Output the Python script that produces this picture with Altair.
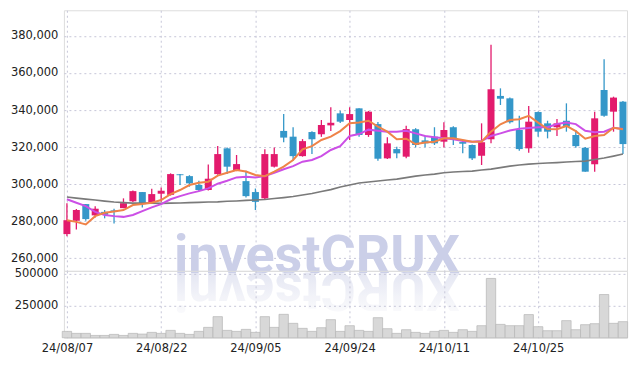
import altair as alt
import pandas as pd

dates = ["24/08/07", "24/08/08", "24/08/09", "24/08/12", "24/08/13", "24/08/14", "24/08/16",
         "24/08/19", "24/08/20", "24/08/21", "24/08/22", "24/08/23", "24/08/26", "24/08/27",
         "24/08/28", "24/08/29", "24/08/30", "24/09/02", "24/09/03", "24/09/04", "24/09/05",
         "24/09/06", "24/09/09", "24/09/10", "24/09/11", "24/09/12", "24/09/13", "24/09/19",
         "24/09/20", "24/09/23", "24/09/24", "24/09/25", "24/09/26", "24/09/27", "24/09/30",
         "24/10/02", "24/10/04", "24/10/07", "24/10/08", "24/10/10", "24/10/11", "24/10/14",
         "24/10/15", "24/10/16", "24/10/17", "24/10/18", "24/10/21", "24/10/22", "24/10/23",
         "24/10/24", "24/10/25", "24/10/28", "24/10/29", "24/10/30", "24/10/31", "24/11/01",
         "24/11/04", "24/11/05", "24/11/06", "24/11/07"]

opens = [273000, 280200, 289200, 283100, 285000, 285800, 287000, 290700, 295700, 289900,
         294800, 294200, 305300, 304300, 299500, 296800, 305400, 319300, 307600, 301600,
         295700, 292300, 309400, 328700, 325600, 315100, 328100, 326900, 331700, 338200,
         334600, 340900, 326500, 332400, 313900, 318900, 314800, 329600, 323600, 325600,
         322900, 330700, 322700, 321100, 315300, 324200, 347600, 346300, 329200, 319300,
         338900, 332800, 330700, 334200, 326500, 319600, 310700, 350800, 339100, 344500]
highs = [289700, 286500, 289200, 288000, 286000, 286700, 292300, 296600, 295700, 297500,
         298200, 305800, 305400, 304800, 301800, 310600, 320500, 319800, 315700, 307200,
         297600, 318800, 319800, 337800, 330700, 324300, 328500, 334600, 341500, 339600,
         341500, 341000, 339500, 333500, 325300, 320200, 331500, 330200, 326300, 330700,
         333400, 331200, 323000, 321400, 332800, 375300, 351700, 346700, 336900, 342200,
         339200, 334200, 335100, 343600, 329200, 320000, 339100, 367400, 347200, 344800]
lows = [271900, 275500, 280200, 282000, 281500, 278700, 287000, 290300, 287400, 289500,
        290500, 293800, 299500, 298600, 296300, 296500, 305000, 305400, 307000, 292800,
        286000, 292000, 309000, 322600, 312600, 314800, 316200, 325500, 328600, 333000,
        323800, 325600, 325500, 312600, 313500, 313900, 314000, 319800, 319900, 321100,
        319800, 321100, 316600, 313000, 310300, 322000, 342700, 332700, 318000, 316900,
        325600, 324700, 326000, 328300, 319600, 306700, 306700, 336400, 328300, 316200]
closes = [280500, 286000, 281100, 286700, 283400, 285000, 289700, 296200, 289200, 294600,
          296400, 305400, 304800, 300400, 296800, 302900, 316200, 309400, 310800, 293500,
          290400, 316200, 316200, 325100, 315100, 323200, 324200, 331900, 333100, 333700,
          337800, 326500, 339100, 313700, 322000, 316600, 329700, 321100, 322000, 322000,
          329200, 324700, 321800, 313900, 322600, 351200, 346100, 333400, 318900, 333700,
          328300, 328300, 332800, 331000, 320500, 306700, 335500, 336900, 346700, 321600]

ma5 = [280500, 279600, 278200, 282700, 284500, 285200, 286000, 288700, 289200, 289900,
       291400, 294600, 296800, 299500, 300700, 301300, 304600, 306100, 307600, 306800,
       304900, 304300, 306700, 309400, 313000, 318800, 320500, 323800, 325600, 328600,
       332800, 333200, 334200, 331000, 328300, 324200, 324500, 321600, 322500, 322900,
       324700, 324700, 323800, 322900, 322900, 328300, 332300, 334600, 335000, 336900,
       333200, 329700, 329600, 331400, 328600, 324500, 326000, 326500, 330400, 329600]
ma20 = [291800, 289900, 288100, 285000, 283300, 282700, 282300, 283300, 285400, 287400,
        289200, 291800, 293500, 295000, 296200, 297700, 300200, 301800, 303600, 304000,
        303600, 304300, 306100, 308000, 309700, 312100, 313000, 315100, 318400, 320500,
        326000, 327000, 329400, 328800, 328300, 328300, 328800, 327400, 326000, 325300,
        324700, 324200, 323300, 322900, 323300, 326000, 327400, 328900, 329900, 330300,
        330700, 330700, 332400, 333200, 332400, 328800, 328000, 328300, 330400, 329700]
ma60 = [293000, 292400, 291900, 291400, 290800, 290300, 290000, 289700, 289700, 289700,
        289600, 289700, 289800, 290000, 290100, 290300, 290400, 290700, 290900, 291200,
        291400, 291700, 292200, 292700, 293300, 294100, 294900, 296000, 297000, 298400,
        299500, 300600, 301100, 301700, 302200, 302700, 303500, 304300, 304900, 305400,
        306100, 306500, 306800, 307000, 307600, 308100, 308900, 309700, 310300, 310800,
        311100, 311400, 311600, 311900, 312200, 312400, 313300, 314100, 315100, 316200]

volumes = [49500, 34000, 34000, 18000, 18000, 26000, 18000, 34000, 28600, 41700,
           34000, 57300, 34000, 26000, 49500, 80700, 164000, 57300, 49500, 65000,
           41700, 164000, 80700, 182000, 112000, 73000, 49500, 78000, 140600, 49500,
           93700, 57300, 49500, 156000, 70300, 34000, 62500, 41700, 34000, 49500,
           57300, 41700, 62500, 49500, 93700, 461000, 104000, 93700, 93700, 180000,
           86000, 54700, 54700, 133000, 62500, 101600, 109400, 336000, 112000, 125000]

price_ticks = [260000, 280000, 300000, 320000, 340000, 360000, 380000]
volume_ticks = [250000, 500000]
date_tick_idx = [0, 10, 20, 30, 40, 50]
watermark = "investCRUX"

df = pd.DataFrame({
    "i": list(range(len(dates))), "date": dates,
    "open": opens, "high": highs, "low": lows, "close": closes,
    "ma5": ma5, "ma20": ma20, "ma60": ma60, "volume": volumes,
})

RED = "#e31b6d"
BLUE = "#3497c9"
GRID = "#c6c6d8"
DASH = [2, 3]
FONT = "DejaVu Sans"
W = 564

label_expr = "[" + ",".join("'%s'" % d for d in dates) + "][datum.value]"
xscale = alt.Scale(domain=[-0.32, 59.43], nice=False, zero=False, padding=0)

def x_top():
    return alt.X("i:Q", scale=xscale, title=None,
                 axis=alt.Axis(values=date_tick_idx, labels=False, ticks=False, domain=False,
                               grid=True, gridColor=GRID, gridDash=DASH, minExtent=0,
                               maxExtent=0, labelPadding=0))

x_bottom = alt.X("i:Q", scale=xscale, title=None,
                 axis=alt.Axis(values=date_tick_idx, labelExpr=label_expr, ticks=False,
                               domain=False, grid=True, gridColor=GRID, gridDash=DASH,
                               labelPadding=5, labelFontSize=11.5, labelColor="#222",
                               labelFont=FONT))

yscale = alt.Scale(domain=[253150, 393850], nice=False, zero=False)
yaxis = alt.Axis(values=price_ticks, format=",d", ticks=False, domain=False, grid=True,
                 gridColor=GRID, gridDash=DASH, labelPadding=6, minExtent=55, maxExtent=55,
                 labelFontSize=11.5, labelColor="#222", labelFont=FONT)

def Y(field):
    return alt.Y(field, scale=yscale, axis=yaxis, title=None)

base = alt.Chart(df)
up_color = alt.condition("datum.close >= datum.open", alt.value(RED), alt.value(BLUE))

wm = alt.Chart(pd.DataFrame({"t": [watermark]})).mark_text(
    font="Roboto", fontWeight="bold", fontSize=54, color="#cbcfe8", align="center",
    baseline="alphabetic"
).encode(text="t:N", x=alt.value(253.5), y=alt.value(263))

wm_ref = alt.Chart(pd.DataFrame({"t": [watermark[::-1]]})).mark_text(
    font="Roboto", fontWeight="bold", fontSize=54, align="center", baseline="alphabetic",
    angle=180, opacity=0.85,
    color={"gradient": "linear", "x1": 0, "y1": 0, "x2": 0, "y2": 1,
           "stops": [{"offset": 0, "color": "#ffffff"}, {"offset": 0.4, "color": "#f1f2f8"},
                     {"offset": 1, "color": "#d8dbee"}]}
).encode(text="t:N", x=alt.value(253.5), y=alt.value(263))

wick = base.mark_rule(strokeWidth=1.3).encode(x=x_top(), y=Y("low:Q"), y2="high:Q", color=up_color)
body = base.mark_bar(size=7).encode(x=x_top(), y=Y("open:Q"), y2="close:Q", color=up_color)
l60 = base.mark_line(color="#7a7a7a", strokeWidth=1.6).encode(x=x_top(), y=Y("ma60:Q"))
l20 = base.mark_line(color="#cc4fe6", strokeWidth=2).encode(x=x_top(), y=Y("ma20:Q"))
l5 = base.mark_line(color="#ef8348", strokeWidth=2).encode(x=x_top(), y=Y("ma5:Q"))

price = alt.layer(wm, wm_ref, wick, body, l60, l20, l5).properties(width=W, height=261)

vol = base.mark_bar(size=9.4, color="#d8d8d8", stroke="#b5b5b5", strokeWidth=0.7).encode(
    x=x_bottom,
    y=alt.Y("volume:Q", scale=alt.Scale(domain=[0, 520000], nice=False), title=None,
            axis=alt.Axis(values=volume_ticks, format="d", ticks=False, domain=False, grid=True,
                          gridColor=GRID, gridDash=DASH, labelPadding=6, minExtent=55,
                          maxExtent=55, labelFontSize=11.5, labelColor="#222", labelFont=FONT))
).properties(width=W, height=67)

chart = alt.vconcat(price, vol, spacing=0, bounds="flush").properties(
    padding={"left": 0, "top": 1, "right": 0, "bottom": 0}
).configure_view(stroke="#d6d6d6").configure(background="white")

chart.save("out.html", embed_options={"renderer": "svg", "actions": False})
